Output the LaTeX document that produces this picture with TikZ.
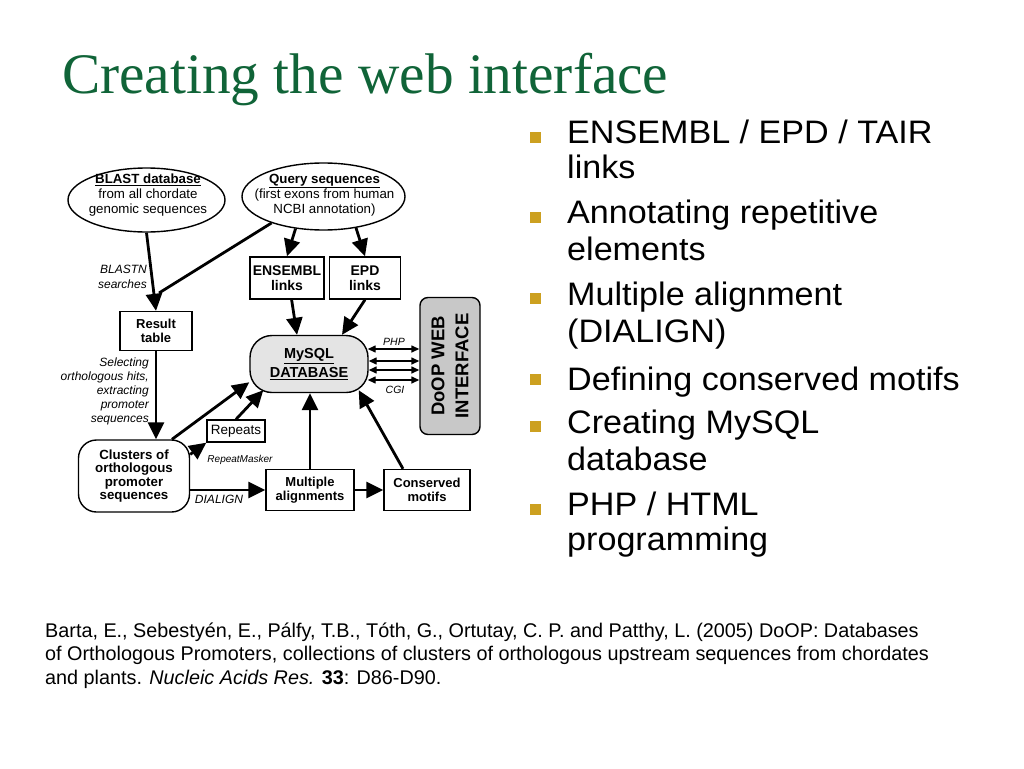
\documentclass[tikz,border=0pt]{standalone}
\usepackage{fontspec}
\setmainfont{Liberation Sans}
\newfontfamily\titlefont{Liberation Serif}
\newfontfamily\bulletfont[FakeStretch=1.05]{Liberation Sans}
\usetikzlibrary{arrows.meta,shapes.geometric,calc}
\definecolor{titlegreen}{RGB}{16,100,56}
\definecolor{bulletgold}{RGB}{204,160,32}
\definecolor{dbgray}{RGB}{228,228,228}
\definecolor{webgray}{RGB}{200,200,200}
\begin{document}
\begin{tikzpicture}[x=1pt,y=-1pt,
  ttl/.style={font=\titlefont\fontsize{57.3}{60}\selectfont, text=titlegreen, anchor=base west, inner sep=0},
  btxt/.style={font=\bulletfont\fontsize{32.5}{36}\selectfont, anchor=base west, inner sep=0},
  bsq/.style={fill=bulletgold, minimum size=11, inner sep=0},
  cite/.style={font=\fontsize{19.8}{24}\selectfont, anchor=base west, inner sep=0},
  ell/.style={draw, ellipse, line width=1.4pt, inner sep=0},
  etxt/.style={align=center, font=\fontsize{13.3}{15}\selectfont, inner sep=0},
  box/.style={draw, line width=1.4pt, align=center, inner sep=0, font=\bfseries\fontsize{13}{14}\selectfont},
  flow/.style={line width=2.8pt, -{Triangle[length=17pt,width=16pt]}},
  plainflow/.style={line width=2.8pt},
  dbl/.style={line width=1.4pt, {Triangle[length=8pt,width=7pt]}-{Triangle[length=8pt,width=7pt]}},
  lbl/.style={font=\itshape\fontsize{12}{14}\selectfont, inner sep=0},
  slbl/.style={font=\itshape\fontsize{10.5}{12}\selectfont, inner sep=0}
]
\fill[white] (0,0) rectangle (1024,768);
\path[use as bounding box] (0,0) rectangle (1024,768);

% title
\node[ttl] (title) at (62,93) {Creating the web interface};

% bullets
\node[bsq] (b1) at (535,137) {};
\node[btxt] (t1a) at (567,143) {ENSEMBL / EPD / TAIR};
\node[btxt] (t1b) at (567,178) {links};
\node[bsq] (b2) at (535,217) {};
\node[btxt] (t2a) at (567,223) {Annotating repetitive};
\node[btxt] (t2b) at (567,260) {elements};
\node[bsq] (b3) at (535,298) {};
\node[btxt] (t3a) at (567,305) {Multiple alignment};
\node[btxt] (t3b) at (567,342) {(DIALIGN)};
\node[bsq] (b4) at (535,379) {};
\node[btxt] (t4a) at (567,390) {Defining conserved motifs};
\node[bsq] (b5) at (535,426) {};
\node[btxt] (t5a) at (567,433) {Creating MySQL};
\node[btxt] (t5b) at (567,470) {database};
\node[bsq] (b6) at (535,509) {};
\node[btxt] (t6a) at (567,515) {PHP / HTML};
\node[btxt] (t6b) at (567,550) {programming};

% citation
\node[cite] (c1) at (45,637) {Barta, E., Sebesty\'en, E., P\'alfy, T.B., T\'oth, G., Ortutay, C. P. and Patthy, L. (2005) DoOP: Databases};
\node[cite] (c2) at (45,660.5) {of Orthologous Promoters, collections of clusters of orthologous upstream sequences from chordates};
\node[cite] (c3) at (45,684) {and plants. \textit{Nucleic Acids Res.} \textbf{33}: D86-D90.};

% diagram nodes
\node[ell, minimum width=157, minimum height=64] (blast) at (146.5,200) {};
\node[etxt] (blastT) at ($(blast.center)+(1.5,-5)$) {\textbf{\underline{BLAST database}}\\from all chordate\\genomic sequences};
\node[ell, minimum width=163, minimum height=67] (query) at (323.5,196.5) {};
\node[etxt] (queryT) at ($(query.center)+(1,-1.5)$) {\textbf{\underline{Query sequences}}\\(first exons from human\\NCBI annotation)};
\node[box, minimum width=74, minimum height=42, font=\bfseries\fontsize{14}{15}\selectfont] (ens) at (287,278) {ENSEMBL\\links};
\node[box, minimum width=71, minimum height=42, font=\bfseries\fontsize{14}{15}\selectfont] (epd) at (365,278) {EPD\\links};
\node[box, minimum width=72, minimum height=39] (result) at (156,331) {Result\\table};
\node[box, rounded corners=22, fill=dbgray, minimum width=118, minimum height=57, font=\bfseries\fontsize{14.5}{19}\selectfont] (mysql) at (309,364) {\underline{MySQL}\\\underline{DATABASE}};
\node[box, rounded corners=8, fill=webgray, rotate=90, minimum width=137, minimum height=60, font=\bfseries\fontsize{18.5}{24}\selectfont] (doop) at (450,366) {DoOP WEB\\INTERFACE};
\node[box, rounded corners=18, minimum width=111, minimum height=72, font=\bfseries\fontsize{13.3}{13.5}\selectfont] (clusters) at (134,476) {Clusters of\\orthologous\\promoter\\sequences};
\node[box, minimum width=58, minimum height=22, font=\fontsize{13.5}{15}\selectfont] (repeats) at (236,431) {Repeats};
\node[box, minimum width=88, minimum height=41] (mult) at (310,490) {Multiple\\alignments};
\node[box, minimum width=86, minimum height=41] (cons) at (427,490) {Conserved\\motifs};

% labels
\node[lbl, align=right, anchor=east, font=\itshape\fontsize{12}{15}\selectfont] (blastn) at (147,277) {BLASTN\\searches};
\node[lbl, align=right, anchor=east, font=\itshape\fontsize{12}{14}\selectfont] (selecting) at (149,391) {Selecting\\orthologous hits,\\extracting\\promoter\\sequences};
\node[slbl, font=\itshape\fontsize{10}{12}\selectfont] (rmask) at (240,460) {RepeatMasker};
\node[lbl] (dialign) at (219,499) {DIALIGN};
\node[slbl] (php) at (394,342) {PHP};
\node[slbl] (cgi) at (395,390) {CGI};

% connectors
\coordinate (qend) at (159,293);
\draw[flow] (blast.south) -- (result.north);
\draw[plainflow] (query.207) -- (qend);
\draw[flow] (query.229) -- (ens.north);
\draw[flow] (query.-44) -- (epd.north);
\draw[flow] (ens.-78) -- ($(mysql.north)+(-12,0)$);
\draw[flow] (epd.south) -- ($(mysql.north)+(33,0)$);
\draw[flow] (result.south) -- (result.south |- clusters.north);
\draw[flow] ($(clusters.north)+(38,0)$) -- (mysql.197);
\draw[flow] (clusters.21) -- (repeats.south west);
\draw[flow] (repeats.north) -- ($(mysql.south west)+(14,-3)$);
\draw[flow] (clusters.east |- mult.west) -- (mult.west);
\draw[flow] (mult.north) -- (mult.north |- mysql.south);
\draw[flow] (mult.east) -- (cons.west);
\draw[flow] ($(cons.north)+(-24,0)$) -- ($(mysql.south east)+(-10,-3)$);

\coordinate (h1) at ($(mysql.east)+(-1,-15)$);
\coordinate (h2) at ($(mysql.east)+(0,-3)$);
\coordinate (h3) at ($(mysql.east)+(0,6)$);
\coordinate (h4) at ($(mysql.east)+(-1,16)$);
\draw[dbl] (h1) -- (h1 -| doop.north);
\draw[dbl] (h2) -- (h2 -| doop.north);
\draw[dbl] (h3) -- (h3 -| doop.north);
\draw[dbl] (h4) -- (h4 -| doop.north);
\end{tikzpicture}
\end{document}
